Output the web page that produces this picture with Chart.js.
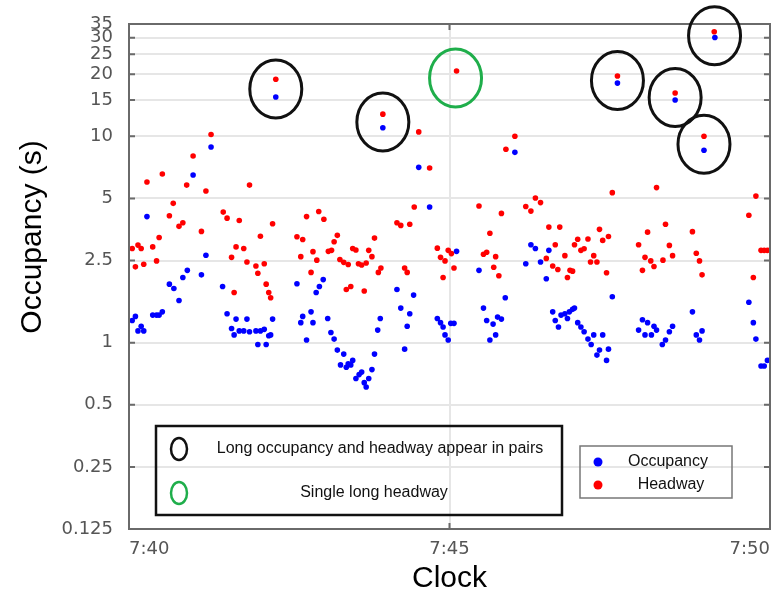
<!DOCTYPE html>
<html>
<head>
<meta charset="utf-8">
<script src="https://cdn.jsdelivr.net/npm/chart.js@4"></script>
<style>
html, body { margin: 0; padding: 0; background: #fff; }
</style>
</head>
<body>
<canvas id="chart" width="780" height="598"></canvas>
<script>
// minutes after 7:40
let occTime = [0.05,0.10,0.14,0.19,0.23,0.28,0.37,0.43,0.47,0.52,
    0.63,0.70,0.78,0.84,0.91,1.00,1.13,1.20,1.28,1.46,
    1.53,1.60,1.64,1.67,1.72,1.79,1.84,1.88,1.98,2.01,
    2.05,2.11,2.14,2.18,2.21,2.24,2.29,2.62,2.68,2.71,
    2.77,2.84,2.87,2.92,2.97,3.03,3.10,3.15,3.20,3.25,
    3.30,3.35,3.39,3.42,3.46,3.49,3.54,3.59,3.63,3.67,
    3.70,3.74,3.79,3.83,3.88,3.92,3.96,4.18,4.24,4.30,
    4.34,4.38,4.44,4.52,4.69,4.81,4.86,4.90,4.93,4.98,
    5.02,5.07,5.11,5.46,5.53,5.58,5.63,5.68,5.72,5.75,
    5.81,5.87,6.02,6.19,6.27,6.34,6.42,6.51,6.55,6.61,
    6.65,6.70,6.74,6.80,6.84,6.87,6.92,6.95,7.00,7.05,
    7.10,7.16,7.21,7.25,7.30,7.34,7.39,7.45,7.48,7.54,
    7.62,7.95,8.01,8.05,8.09,8.15,8.19,8.23,8.32,8.37,
    8.43,8.48,8.52,8.79,8.85,8.90,8.94,8.97,9.14,9.67,
    9.74,9.78,9.86,9.91,9.96];
let occValue = [1.28,1.34,1.14,1.20,1.14,4.08,1.36,1.36,1.36,1.41,
    1.92,1.83,1.60,2.07,2.24,6.49,2.13,2.65,8.87,1.87,
    1.38,1.17,1.09,1.30,1.14,1.14,1.30,1.13,1.14,0.98,
    1.14,1.16,0.98,1.08,1.09,1.30,15.5,1.93,1.25,1.34,
    1.03,1.41,1.25,1.75,1.87,2.02,1.31,1.12,1.04,0.92,
    0.78,0.88,0.76,0.79,0.78,0.82,0.67,0.70,0.72,0.64,
    0.61,0.67,0.74,0.88,1.15,1.31,11.0,1.81,1.47,0.93,
    1.20,1.38,1.70,7.07,4.54,1.31,1.25,1.19,1.09,1.03,
    1.24,1.24,2.77,2.24,1.47,1.28,1.03,1.23,1.09,1.33,
    1.30,1.65,8.36,2.41,2.98,2.86,2.46,2.04,2.80,1.41,
    1.28,1.19,1.36,1.38,1.31,1.41,1.45,1.47,1.25,1.19,
    1.13,1.04,0.98,1.09,0.87,0.92,1.09,0.82,0.93,1.67,
    18.1,1.15,1.29,1.09,1.25,1.09,1.20,1.15,0.98,1.03,
    1.13,1.20,15.0,1.41,1.09,1.03,1.14,8.55,30.1,1.57,
    1.25,1.04,0.77,0.77,0.82];

let headTime = [0.05,0.10,0.14,0.19,0.23,0.28,0.37,0.43,0.47,0.52,
    0.63,0.69,0.78,0.84,0.90,1.00,1.13,1.20,1.28,1.47,
    1.53,1.60,1.64,1.67,1.72,1.79,1.84,1.88,1.98,2.01,
    2.05,2.11,2.14,2.18,2.21,2.24,2.29,2.62,2.68,2.71,
    2.77,2.84,2.87,2.93,2.96,3.04,3.11,3.16,3.20,3.25,
    3.29,3.35,3.39,3.42,3.46,3.49,3.54,3.58,3.63,3.67,
    3.70,3.74,3.79,3.83,3.89,3.93,3.96,4.18,4.24,4.30,
    4.34,4.38,4.45,4.52,4.69,4.81,4.86,4.90,4.93,4.98,
    5.03,5.07,5.11,5.46,5.53,5.58,5.63,5.69,5.72,5.77,
    5.81,5.88,6.02,6.19,6.27,6.34,6.42,6.51,6.55,6.61,
    6.65,6.69,6.72,6.80,6.84,6.88,6.92,6.95,7.00,7.05,
    7.10,7.16,7.20,7.25,7.30,7.34,7.39,7.45,7.48,7.54,
    7.62,7.95,8.01,8.05,8.09,8.14,8.19,8.23,8.33,8.37,
    8.43,8.48,8.52,8.79,8.85,8.90,8.94,8.97,9.13,9.67,
    9.74,9.78,9.86,9.91,9.96];
let headValue = [2.86,2.33,2.97,2.86,2.40,6.00,2.91,2.49,3.23,6.56,
    4.12,4.73,3.66,3.81,5.80,8.03,3.46,5.43,10.2,4.29,
    4.01,2.59,1.75,2.91,3.91,2.86,2.46,5.80,2.35,2.17,
    3.28,2.41,1.92,1.75,1.65,3.77,18.9,3.26,2.61,3.16,
    4.08,2.19,2.76,2.51,4.32,3.96,2.77,2.80,3.08,3.31,
    2.53,2.45,1.81,2.39,1.87,2.86,2.81,2.41,2.38,1.78,
    2.43,2.80,2.61,3.21,2.19,2.30,12.8,3.81,3.70,2.30,
    2.19,3.75,4.54,10.5,7.02,2.87,2.59,2.07,2.49,2.80,
    2.70,2.30,20.7,4.59,2.68,2.74,3.39,2.32,2.61,2.11,
    4.23,8.65,10.0,4.57,4.34,5.02,4.77,2.56,3.63,2.35,
    2.98,2.26,3.63,2.64,2.07,2.24,2.22,2.98,3.17,2.80,
    2.85,3.18,2.46,2.64,2.46,3.54,3.13,2.18,3.27,5.33,
    19.6,2.98,2.24,2.59,3.43,2.49,2.34,5.64,2.51,3.75,
    2.96,2.64,16.2,3.45,2.71,2.49,2.13,10.0,32.1,4.14,
    2.07,5.13,2.80,2.80,2.80];

let yTicks = [0.125, 0.25, 0.5, 1, 2.5, 5, 10, 15, 20, 25, 30, 35];
let xTicks = [0, 5, 10];
let xTickLabels = ["7:40", "7:45", "7:50"];

// circled events (minutes after 7:40)
let pairTimes = [2.29, 3.96, 7.62, 8.52, 8.97, 9.13];
let singleTimes = [5.11];

let legendLines = ["Long occupancy and headway appear in pairs", "Single long headway"];
let seriesNames = ["Occupancy", "Headway"];

function toPoints(xs, ys) {
    return xs.map((x, i) => ({ x: x, y: ys[i] }));
}

// pixel position of the point of dataset ds closest to time t
function nearest(chart, ds, t) {
    let pts = chart.data.datasets[ds].data;
    let best = 0;
    pts.forEach((p, i) => {
        if (Math.abs(p.x - t) < Math.abs(pts[best].x - t)) best = i;
    });
    return {
        x: chart.scales.x.getPixelForValue(pts[best].x),
        y: chart.scales.y.getPixelForValue(pts[best].y)
    };
}

function ellipse(ctx, x, y, rx, ry, color, w) {
    ctx.beginPath();
    ctx.ellipse(x, y, rx, ry, 0, 0, Math.PI * 2);
    ctx.strokeStyle = color;
    ctx.lineWidth = w;
    ctx.stroke();
}

const overlay = {
    id: "overlay",
    afterDraw(chart) {
        let ctx = chart.ctx;
        let a = chart.chartArea;
        let xs = chart.scales.x, ys = chart.scales.y;
        ctx.save();

        // frame and inward ticks
        ctx.strokeStyle = "#6a6a6a";
        ctx.lineWidth = 2;
        ctx.strokeRect(a.left, a.top, a.right - a.left, a.bottom - a.top);
        ctx.beginPath();
        yTicks.forEach(v => {
            let y = ys.getPixelForValue(v);
            ctx.moveTo(a.left, y); ctx.lineTo(a.left + 6, y);
            ctx.moveTo(a.right, y); ctx.lineTo(a.right - 6, y);
        });
        let xm = xs.getPixelForValue(5);
        ctx.moveTo(xm, a.bottom); ctx.lineTo(xm, a.bottom - 6);
        ctx.moveTo(xm, a.top); ctx.lineTo(xm, a.top + 6);
        ctx.stroke();

        // circles round events
        pairTimes.forEach(t => {
            let b = nearest(chart, 0, t), r = nearest(chart, 1, t);
            ellipse(ctx, (b.x + r.x) / 2, (b.y + r.y) / 2 + 1, 26, 29, "#111", 3);
        });
        singleTimes.forEach(t => {
            let r = nearest(chart, 1, t);
            ellipse(ctx, r.x - 1, r.y + 7, 26, 29, "#1fae4b", 3);
        });

        // annotation box
        ctx.strokeStyle = "#111";
        ctx.lineWidth = 2.5;
        ctx.strokeRect(156, 426, 406, 89);
        ellipse(ctx, 179, 449, 8, 11, "#111", 2.5);
        ellipse(ctx, 179, 493, 8, 11, "#1fae4b", 2.5);
        ctx.fillStyle = "#111";
        ctx.font = "16px 'Liberation Sans', Arial, sans-serif";
        ctx.textAlign = "center";
        ctx.textBaseline = "middle";
        ctx.fillText(legendLines[0], 380, 449);
        ctx.fillText(legendLines[1], 374, 493);

        // series legend
        ctx.strokeStyle = "#777";
        ctx.lineWidth = 1.5;
        ctx.strokeRect(580, 446, 152, 52);
        ctx.fillStyle = "#0000ff";
        ctx.beginPath(); ctx.arc(598, 462, 4.5, 0, Math.PI * 2); ctx.fill();
        ctx.fillStyle = "#ff0000";
        ctx.beginPath(); ctx.arc(598, 485, 4.5, 0, Math.PI * 2); ctx.fill();
        ctx.fillStyle = "#111";
        ctx.fillText(seriesNames[0], 668, 462);
        ctx.fillText(seriesNames[1], 671, 485);

        // axis titles
        ctx.font = "30px 'Liberation Sans', Arial, sans-serif";
        ctx.fillStyle = "#000";
        ctx.fillText("Clock", (a.left + a.right) / 2, 579);
        ctx.translate(33, 237);
        ctx.rotate(-Math.PI / 2);
        ctx.fillText("Occupancy (s)", 0, 0);
        ctx.restore();
    }
};

let chart = new Chart(document.getElementById("chart").getContext("2d"), {
    type: "scatter",
    data: {
        datasets: [
            { label: seriesNames[0], data: toPoints(occTime, occValue), backgroundColor: "#0000ff", borderWidth: 0, pointRadius: 2.8 },
            { label: seriesNames[1], data: toPoints(headTime, headValue), backgroundColor: "#ff0000", borderWidth: 0, pointRadius: 2.8 }
        ]
    },
    options: {
        responsive: false,
        animation: false,
        devicePixelRatio: 1,
        layout: { padding: { top: 24, right: 10, left: 0, bottom: 0 } },
        plugins: { legend: { display: false }, tooltip: { enabled: false } },
        scales: {
            x: {
                type: "linear",
                min: 0,
                max: 10,
                afterBuildTicks: s => { s.ticks = xTicks.map(v => ({ value: v })); },
                afterFit: s => { s.height = 69; s.paddingLeft = 0; s.paddingRight = 0; },
                ticks: {
                    align: "inner",
                    padding: 10,
                    color: "#555",
                    font: { family: "'DejaVu Sans'", size: 18 },
                    callback: v => xTickLabels[xTicks.indexOf(v)]
                },
                grid: { color: "#e6e6e6", lineWidth: 2, drawTicks: false },
                border: { display: false }
            },
            y: {
                type: "logarithmic",
                min: 0.125,
                max: 35,
                afterBuildTicks: s => { s.ticks = yTicks.map(v => ({ value: v })); },
                afterFit: s => { s.width = 129; s.paddingTop = 0; s.paddingBottom = 0; },
                ticks: {
                    autoSkip: false,
                    padding: 16,
                    color: "#555",
                    font: { family: "'DejaVu Sans'", size: 18 },
                    callback: v => String(v)
                },
                grid: { color: "#e6e6e6", lineWidth: 2, drawTicks: false },
                border: { display: false }
            }
        }
    },
    plugins: [overlay]
});
</script>
</body>
</html>
